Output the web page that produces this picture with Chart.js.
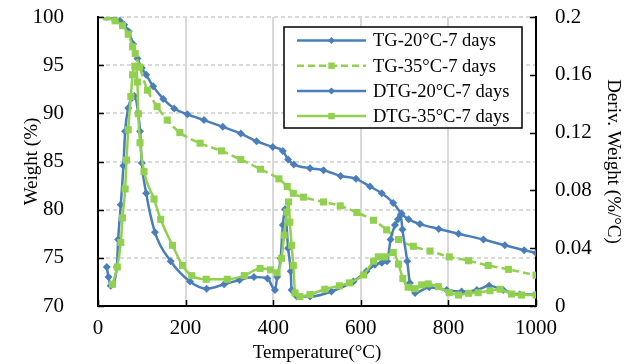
<!DOCTYPE html>
<html>
<head>
<meta charset="utf-8">
<script src="https://cdn.jsdelivr.net/npm/chart.js@4.4.1/dist/chart.umd.min.js"></script>
<style>
    html, body { margin: 0; padding: 0; background: #fff; }
</style>
</head>
<body>
<canvas id="tga-graph" width="636" height="364"></canvas>
<script>
// values
const tg20Temp = [20, 35, 50, 60, 70, 80, 90, 100, 110, 126, 149, 174, 204, 242, 285, 326, 362, 399, 422, 434, 447, 484, 515, 554, 589, 621, 648, 674, 693, 709, 735, 778, 823, 880, 929, 973, 1000];
const tg20Weight = [100, 99.9, 99.6, 99.2, 98.5, 97.2, 95.7, 94.7, 94.0, 92.8, 91.5, 90.5, 89.9, 89.3, 88.6, 87.9, 87.1, 86.5, 86.1, 85.2, 84.7, 84.3, 84.1, 83.5, 83.2, 82.4, 81.7, 80.7, 79.6, 79.0, 78.5, 78.0, 77.5, 76.9, 76.3, 75.8, 75.5];

const tg35Temp = [20, 39, 56, 69, 79, 85, 95, 113, 135, 158, 187, 233, 282, 326, 371, 413, 432, 446, 469, 515, 553, 591, 629, 659, 686, 720, 758, 802, 846, 891, 937, 1000];
const tg35Weight = [100, 99.6, 99.1, 98.2, 96.9, 96.2, 94.8, 92.4, 90.7, 89.3, 88.0, 86.9, 86.1, 85.2, 84.2, 83.2, 82.4, 81.7, 81.3, 80.8, 80.4, 79.7, 78.9, 77.9, 76.9, 76.2, 75.7, 75.1, 74.7, 74.2, 73.8, 73.2];

const dtg20Temp = [20, 24, 29, 43, 46, 52, 58, 62, 69, 77, 83, 92, 96, 100, 110, 130, 166, 210, 248, 288, 323, 356, 387, 404, 409, 417, 422, 427, 434, 440, 442, 454, 484, 533, 583, 613, 632, 648, 660, 668, 678, 685, 691, 695, 706, 712, 724, 756, 796, 830, 865, 893, 925, 963, 1000];
const dtg20Deriv = [0.027, 0.020, 0.014, 0.027, 0.046, 0.070, 0.097, 0.121, 0.137, 0.144, 0.1454, 0.133, 0.121, 0.099, 0.078, 0.051, 0.031, 0.017, 0.012, 0.015, 0.018, 0.020, 0.019, 0.011, 0.020, 0.033, 0.056, 0.067, 0.040, 0.024, 0.011, 0.0065, 0.0065, 0.010, 0.017, 0.024, 0.0285, 0.030, 0.031, 0.046, 0.056, 0.060, 0.063, 0.053, 0.031, 0.016, 0.009, 0.013, 0.011, 0.010, 0.011, 0.014, 0.011, 0.008, 0.008];

const dtg35Temp = [33, 44, 52, 56, 62, 65, 69, 75, 79, 84, 90, 92, 96, 105, 128, 143, 170, 193, 214, 247, 295, 334, 370, 394, 409, 419, 425, 431, 435, 438, 442, 446, 450, 461, 484, 518, 551, 574, 606, 629, 640, 655, 674, 686, 696, 708, 724, 739, 754, 777, 802, 823, 846, 868, 895, 918, 944, 967, 1000];
const dtg35Deriv = [0.015, 0.027, 0.044, 0.061, 0.081, 0.101, 0.122, 0.145, 0.160, 0.166, 0.155, 0.133, 0.113, 0.093, 0.074, 0.060, 0.042, 0.028, 0.021, 0.0185, 0.0185, 0.021, 0.026, 0.025, 0.023, 0.033, 0.049, 0.065, 0.072, 0.058, 0.042, 0.028, 0.009, 0.0065, 0.008, 0.0116, 0.014, 0.016, 0.0215, 0.031, 0.034, 0.034, 0.037, 0.029, 0.019, 0.013, 0.012, 0.0146, 0.0153, 0.0134, 0.0092, 0.0076, 0.0088, 0.0092, 0.0106, 0.0116, 0.0083, 0.0076, 0.0076];

const seriesNames = ['TG-20°C-7 days', 'TG-35°C-7 days', 'DTG-20°C-7 days', 'DTG-35°C-7 days'];
const tempTicks = [0, 200, 400, 600, 800, 1000];

const BLUE = '#4a7ebb';
const GREEN = '#92d050';
const FONT = "'Liberation Serif', 'Times New Roman', serif";

Chart.defaults.color = '#000';
Chart.defaults.font.family = FONT;

function toPoints(xs, ys) {
    return xs.map((x, i) => ({x: x, y: ys[i]}));
}

// fixed axis box size so the plot area lands where the original one is
function fixWidth(width) {
    return scale => {
        scale.width = width;
        scale.paddingTop = 0;
        scale.paddingBottom = 0;
    };
}

// excel style tick marks, drawn on the inside of the plot area
const insideTicks = {
    id: 'insideTicks',
    afterDatasetsDraw(chart) {
        const ctx = chart.ctx;
        const area = chart.chartArea;
        const len = 6;
        ctx.save();
        ctx.strokeStyle = '#000';
        ctx.lineWidth = 1.5;
        ctx.beginPath();
        chart.scales.x.ticks.forEach(t => {
            const px = Math.round(chart.scales.x.getPixelForValue(t.value)) + 0.5;
            ctx.moveTo(px, area.bottom);
            ctx.lineTo(px, area.bottom - len);
        });
        chart.scales.y.ticks.forEach(t => {
            const py = Math.round(chart.scales.y.getPixelForValue(t.value)) + 0.5;
            ctx.moveTo(area.left, py);
            ctx.lineTo(area.left + len, py);
        });
        chart.scales.y2.ticks.forEach(t => {
            const py = Math.round(chart.scales.y2.getPixelForValue(t.value)) + 0.5;
            ctx.moveTo(area.right, py);
            ctx.lineTo(area.right - len, py);
        });
        ctx.stroke();
        ctx.restore();
    }
};

function drawMarker(ctx, style, x, y, r) {
    ctx.beginPath();
    if (style === 'rectRot') {
        ctx.moveTo(x, y - r);
        ctx.lineTo(x + r, y);
        ctx.lineTo(x, y + r);
        ctx.lineTo(x - r, y);
    } else {
        ctx.rect(x - r * 0.8, y - r * 0.8, r * 1.6, r * 1.6);
    }
    ctx.closePath();
    ctx.fill();
}

// legend in a box inside the plot, like the spreadsheet one
const boxLegend = {
    id: 'boxLegend',
    afterDraw(chart) {
        const ctx = chart.ctx;
        const area = chart.chartArea;
        const left = area.left + 186;
        const top = area.top + 10;
        const w = 238;
        const h = 101;
        ctx.save();
        ctx.fillStyle = '#fff';
        ctx.fillRect(left, top, w, h);
        ctx.strokeStyle = '#000';
        ctx.lineWidth = 1.5;
        ctx.strokeRect(left, top, w, h);
        chart.data.datasets.forEach((ds, i) => {
            const y = top + 13.5 + i * 25.2;
            ctx.strokeStyle = ds.borderColor;
            ctx.lineWidth = ds.borderWidth;
            ctx.setLineDash(ds.borderDash || []);
            ctx.beginPath();
            ctx.moveTo(left + 13, y);
            ctx.lineTo(left + 82, y);
            ctx.stroke();
            ctx.setLineDash([]);
            ctx.fillStyle = ds.borderColor;
            drawMarker(ctx, ds.pointStyle, left + 47.5, y, ds.pointStyle === 'rect' ? 4 : 3.5);
            ctx.fillStyle = '#000';
            ctx.font = '18.5px ' + FONT;
            ctx.textBaseline = 'middle';
            ctx.textAlign = 'left';
            ctx.fillText(ds.label, left + 89, y + 1);
        });
        ctx.restore();
    }
};

function makeDataset(label, xs, ys, color, marker, axis, dashed, order) {
    return {
        label: label,
        data: toPoints(xs, ys),
        yAxisID: axis,
        showLine: true,
        borderColor: color,
        backgroundColor: color,
        borderWidth: 2.5,
        borderDash: dashed ? [7, 4] : [],
        pointStyle: marker,
        pointRadius: marker === 'rect' ? 5 : 4,
        pointBorderWidth: 0,
        pointBackgroundColor: color,
        cubicInterpolationMode: 'monotone',
        order: order
    };
}

const tgaGraph = new Chart(document.getElementById('tga-graph'), {
    type: 'scatter',
    data: {
        datasets: [
            makeDataset(seriesNames[0], tg20Temp, tg20Weight, BLUE, 'rectRot', 'y', false, 3),
            makeDataset(seriesNames[1], tg35Temp, tg35Weight, GREEN, 'rect', 'y', true, 2),
            makeDataset(seriesNames[2], dtg20Temp, dtg20Deriv, BLUE, 'rectRot', 'y2', false, 1),
            makeDataset(seriesNames[3], dtg35Temp, dtg35Deriv, GREEN, 'rect', 'y2', false, 0)
        ]
    },
    options: {
        responsive: false,
        animation: false,
        devicePixelRatio: 1,
        layout: {padding: {top: 17, left: 0, right: 0, bottom: 0}},
        scales: {
            x: {
                type: 'linear',
                min: 0,
                max: 1000,
                afterBuildTicks: scale => { scale.ticks = tempTicks.map(v => ({value: v})); },
                afterFit: scale => { scale.height = 58; },
                grid: {color: '#d9d9d9', lineWidth: 2, drawTicks: false},
                border: {color: '#000', width: 2},
                ticks: {padding: 10, font: {size: 21}, maxRotation: 0, callback: v => String(v)},
                title: {display: true, text: 'Temperature(°C)', font: {size: 19}, padding: 0}
            },
            y: {
                position: 'left',
                min: 70,
                max: 100,
                ticks: {stepSize: 5, padding: 34, font: {size: 21}},
                afterFit: fixWidth(98),
                grid: {color: '#d9d9d9', lineWidth: 2, drawTicks: false},
                border: {color: '#000', width: 2, dash: [4, 3]},
                title: {display: true, text: 'Weight (%)', font: {size: 19}, padding: 21}
            },
            y2: {
                position: 'right',
                min: 0,
                max: 0.2,
                ticks: {stepSize: 0.04, padding: 19, font: {size: 21}, callback: v => String(+v.toFixed(2))},
                afterFit: fixWidth(100),
                grid: {display: false, drawTicks: false},
                border: {color: '#000', width: 2},
                title: {display: true, text: 'Deriv. Weight (%/°C)', font: {size: 19}, padding: 12}
            }
        },
        plugins: {
            legend: {display: false},
            tooltip: {enabled: false}
        }
    },
    plugins: [insideTicks, boxLegend]
});
</script>
</body>
</html>
